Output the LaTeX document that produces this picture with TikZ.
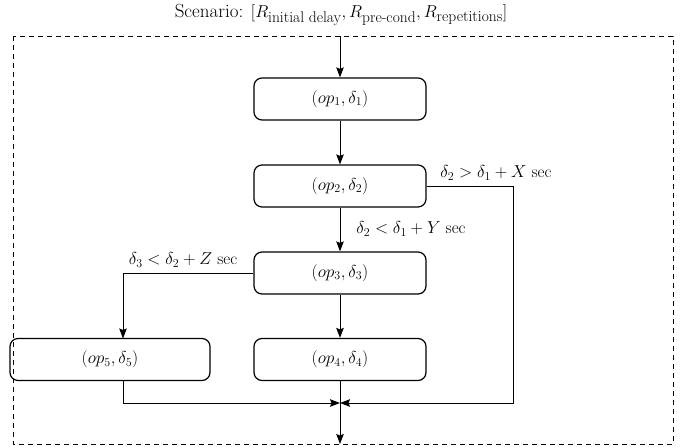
\documentclass[tikz,border=0pt]{standalone}
\usepackage{amsmath}
\usepackage{fontspec}
\usetikzlibrary{arrows.meta}
\newcommand{\subtxt}[1]{\text{\fontsize{15.5}{17}\selectfont #1}}
\begin{document}
\begin{tikzpicture}[x=1pt,y=-1pt,
  opbox/.style={draw,line width=1.2pt,rounded corners=8pt,minimum height=42pt,inner sep=0pt,font=\fontsize{18.5}{20}\selectfont},
  conn/.style={line width=1pt,-{Stealth[length=10pt,width=7.5pt,inset=1.5pt]}},
  lbl/.style={font=\fontsize{17}{20}\selectfont,inner sep=0pt}]
\useasboundingbox (0,0) rectangle (685,447);
\draw[line width=1pt,dash pattern=on 5pt off 4pt] (13,36) rectangle (673,444);
\node[lbl,font=\fontsize{19}{21}\selectfont] (title) at (341,15) {Scenario: $[R_{\subtxt{initial delay}}, R_{\subtxt{pre-cond}}, R_{\subtxt{repetitions}}]$};
\coordinate (top) at (340,36);
\coordinate (bot) at (340,444);
\coordinate (merge) at (340,403);
\node[opbox,minimum width=172pt] (b1) at (340,99) {$(op_1,\delta_1)$};
\node[opbox,minimum width=172pt] (b2) at (340,186) {$(op_2,\delta_2)$};
\node[opbox,minimum width=172pt] (b3) at (340,273) {$(op_3,\delta_3)$};
\node[opbox,minimum width=172pt] (b4) at (340,359.5) {$(op_4,\delta_4)$};
\node[opbox,minimum width=200pt] (b5) at (110,359.5) {$(op_5,\delta_5)$};
\coordinate (b5in) at (123,338.5);
\coordinate (b5out) at (123,380.5);
\coordinate (rc) at (513,403);
\draw[conn] (top) -- (b1);
\draw[conn] (b1) -- (b2);
\draw[conn] (b2) -- (b3);
\draw[conn] (b3) -- (b4);
\draw[conn] (b3.west) -| (b5in);
\draw[conn] (b4) -- (bot);
\draw[conn] (b5out) |- (merge);
\draw[conn] (b2.east) -| (rc) -- (merge);
\node[lbl] (lx) at (496,173) {$\delta_2 > \delta_1 + X$ sec};
\node[lbl] (ly) at (411,229) {$\delta_2 < \delta_1 + Y$ sec};
\node[lbl] (lz) at (183,260) {$\delta_3 < \delta_2 + Z$ sec};
\end{tikzpicture}
\end{document}
